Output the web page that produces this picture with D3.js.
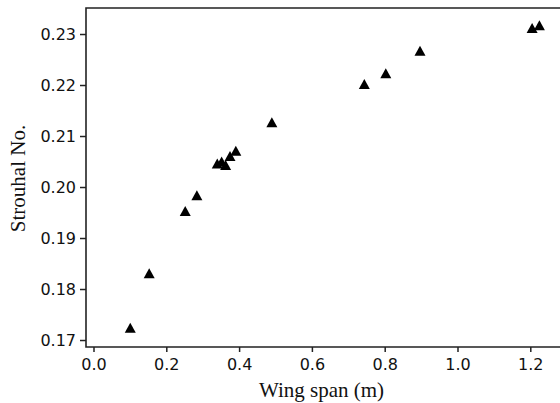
<!DOCTYPE html>
<html>
<head>
<meta charset="utf-8">
<script src="https://cdn.jsdelivr.net/npm/d3@7"></script>
<style>
  body { margin: 0; background: #fff; }
  svg { display: block; }
</style>
</head>
<body>
<svg id="chart" width="560" height="403"></svg>
<script>
// wing span (m) vs Strouhal number
const span = [0.101, 0.153, 0.252, 0.284, 0.340, 0.352, 0.363, 0.375, 0.391, 0.490, 0.744, 0.803, 0.897, 1.205, 1.225]
const strouhal = [0.1724, 0.1831, 0.1953, 0.1984, 0.2046, 0.2050, 0.2043, 0.2061, 0.2071, 0.2127, 0.2202, 0.2223, 0.2267, 0.2312, 0.2317]

const xTicks = [0.0, 0.2, 0.4, 0.6, 0.8, 1.0, 1.2]
const yTicks = [0.17, 0.18, 0.19, 0.20, 0.21, 0.22, 0.23]

// plot frame edges (window.top is taken, so keep them in one object)
const plot = { left: 86, top: 8, bottom: 347, right: 560 }

const x = d3.scaleLinear().domain([-0.0206, 1.2816]).range([plot.left, plot.right])
const y = d3.scaleLinear().domain([0.16863, 0.2351]).range([plot.bottom, plot.top])

const svg = d3.select('svg#chart')

const tickFont = '"DejaVu Sans", Verdana, sans-serif'
const titleFont = '"Liberation Serif", "Times New Roman", serif'

const xAxis = svg.append('g')
  .attr('transform', `translate(0,${plot.bottom})`)
  .call(d3.axisBottom(x)
    .tickValues(xTicks)
    .tickFormat(d3.format('.1f'))
    .tickSize(5)
    .tickPadding(7)
  )

const yAxis = svg.append('g')
  .attr('transform', `translate(${plot.left},0)`)
  .call(d3.axisLeft(y)
    .tickValues(yTicks)
    .tickFormat(d3.format('.2f'))
    .tickSize(6)
    .tickPadding(4)
  )

// the domain paths from d3 have end caps, draw plain frame lines instead
svg.selectAll('.domain').remove()

for (const g of [xAxis, yAxis]) {
  g.selectAll('line').attr('stroke', '#222').attr('stroke-width', 1.5)
  g.selectAll('text')
    .attr('fill', '#111')
    .style('font-family', tickFont)
    .style('font-size', '16px')
}

svg.append('path')
  .attr('d', `M${plot.right},${plot.top}H${plot.left}V${plot.bottom}H${plot.right}`)
  .attr('stroke', '#222')
  .attr('stroke-width', 1.6)
  .attr('fill', 'none')

// points, drawn as bbox-centred triangles
const tw = 11
const th = 10
svg.append('g')
  .selectAll('path')
  .data(span.map((s, i) => ({ s, st: strouhal[i] })))
  .join('path')
  .attr('transform', d => `translate(${x(d.s)},${y(d.st)})`)
  .attr('d', `M0,${-th / 2}L${tw / 2},${th / 2}L${-tw / 2},${th / 2}Z`)
  .attr('fill', '#000')

svg.append('text')
  .attr('x', 321.5)
  .attr('y', 396.5)
  .attr('text-anchor', 'middle')
  .style('font-family', titleFont)
  .style('font-size', '21px')
  .attr('fill', '#111')
  .text('Wing span (m)')

svg.append('text')
  .attr('transform', 'translate(25,178.5) rotate(-90)')
  .attr('text-anchor', 'middle')
  .style('font-family', titleFont)
  .style('font-size', '21px')
  .attr('fill', '#111')
  .text('Strouhal No.')
</script>
</body>
</html>
